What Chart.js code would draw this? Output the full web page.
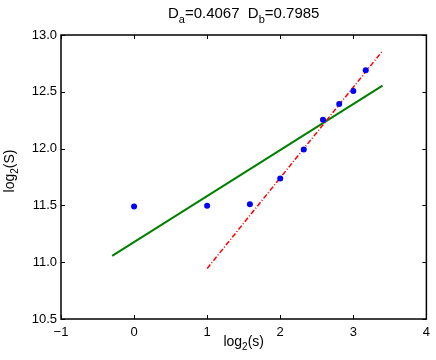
<!DOCTYPE html>
<html>
<head>
<meta charset="utf-8">
<script src="https://cdn.jsdelivr.net/npm/chart.js@4"></script>
<style>
  html, body { margin: 0; padding: 0; background: #fff; }
  canvas { display: block; }
</style>
</head>
<body>
<canvas id="chart" width="436" height="360"></canvas>
<script>
// measured points (log2 of box size vs log2 of count)
const logS = [0, 1, 1.585, 2, 2.322, 2.585, 2.807, 3, 3.17];
const logCount = [11.49, 11.497, 11.511, 11.737, 11.991, 12.254, 12.392, 12.506, 12.69];

// fitted lines, endpoints
const fitAx = [-0.3, 3.4];
const fitAy = [11.055, 12.555];
const fitBx = [1.0, 3.4];
const fitBy = [10.945, 12.86];

const xTicks = [-1, 0, 1, 2, 3, 4];
const yTicks = [10.5, 11, 11.5, 12, 12.5, 13];

const FONT = '"Liberation Sans", Arial, Helvetica, sans-serif';

function toPoints(xs, ys) {
    return xs.map((x, i) => ({ x: x, y: ys[i] }));
}

// draws text with a subscript part: parts = [[text, isSub], ...]
function drawSubText(ctx, parts, cx, cy, size) {
    const subSize = Math.round(size * 0.72);
    let total = 0;
    parts.forEach(p => {
        ctx.font = (p[1] ? subSize : size) + 'px ' + FONT;
        total += ctx.measureText(p[0]).width;
    });
    let x = cx - total / 2;
    ctx.textBaseline = 'middle';
    ctx.textAlign = 'left';
    parts.forEach(p => {
        ctx.font = (p[1] ? subSize : size) + 'px ' + FONT;
        ctx.fillText(p[0], x, p[1] ? cy + size * 0.38 : cy);
        x += ctx.measureText(p[0]).width;
    });
}

const frame = {
    id: 'frame',
    afterDraw(chart) {
        const ctx = chart.ctx;
        const a = chart.chartArea;
        const xs = chart.scales.x, ys = chart.scales.y;
        ctx.save();
        ctx.strokeStyle = '#000';
        ctx.lineWidth = 1.5;
        ctx.strokeRect(a.left, a.top, a.right - a.left, a.bottom - a.top);
        ctx.lineWidth = 1;
        const len = 4;
        ctx.beginPath();
        xTicks.forEach(v => {
            const px = Math.round(xs.getPixelForValue(v)) + 0.5;
            ctx.moveTo(px, a.bottom); ctx.lineTo(px, a.bottom - len);
            ctx.moveTo(px, a.top); ctx.lineTo(px, a.top + len);
        });
        yTicks.forEach(v => {
            const py = Math.round(ys.getPixelForValue(v)) + 0.5;
            ctx.moveTo(a.left, py); ctx.lineTo(a.left + len, py);
            ctx.moveTo(a.right, py); ctx.lineTo(a.right - len, py);
        });
        ctx.stroke();

        ctx.fillStyle = '#000';
        drawSubText(ctx, [['D', false], ['a', true], ['=0.4067  D', false], ['b', true], ['=0.7985', false]],
            (a.left + a.right) / 2, 14, 15);
        drawSubText(ctx, [['log', false], ['2', true], ['(s)', false]], (a.left + a.right) / 2, 342, 14);

        ctx.save();
        ctx.translate(11, 171);
        ctx.rotate(-Math.PI / 2);
        drawSubText(ctx, [['log', false], ['2', true], ['(S)', false]], 0, -1, 14);
        ctx.restore();
        ctx.restore();
    }
};

new Chart(document.getElementById('chart'), {
    type: 'scatter',
    data: {
        datasets: [
            {
                label: 'data',
                data: toPoints(logS, logCount),
                backgroundColor: '#0000ff',
                borderWidth: 0,
                pointRadius: 3,
                order: 0
            },
            {
                label: 'fit a',
                data: toPoints(fitAx, fitAy),
                showLine: true,
                borderColor: '#008000',
                borderWidth: 2,
                pointRadius: 0,
                order: 2
            },
            {
                label: 'fit b',
                data: toPoints(fitBx, fitBy),
                showLine: true,
                borderColor: '#ff0000',
                borderWidth: 1.5,
                borderDash: [5, 2, 1, 2],
                pointRadius: 0,
                order: 1
            }
        ]
    },
    options: {
        responsive: false,
        animation: false,
        layout: { padding: { top: 35, right: 7, left: 0, bottom: 0 } },
        plugins: {
            legend: { display: false },
            tooltip: { enabled: false }
        },
        scales: {
            x: {
                type: 'linear',
                min: -1,
                max: 4,
                afterBuildTicks: s => { s.ticks = xTicks.map(v => ({ value: v })); },
                afterFit: s => { s.height = 41; },
                grid: { display: false, drawTicks: false },
                border: { display: false },
                ticks: {
                    color: '#000',
                    font: { family: FONT, size: 13 },
                    padding: 6,
                    maxRotation: 0,
                    callback: v => String(v).replace('-', '\u2212')
                }
            },
            y: {
                type: 'linear',
                min: 10.5,
                max: 13,
                afterBuildTicks: s => { s.ticks = yTicks.map(v => ({ value: v })); },
                afterFit: s => { s.width = 61; },
                grid: { display: false, drawTicks: false },
                border: { display: false },
                ticks: {
                    color: '#000',
                    font: { family: FONT, size: 13 },
                    padding: 4
                }
            }
        }
    },
    plugins: [frame]
});
</script>
</body>
</html>
